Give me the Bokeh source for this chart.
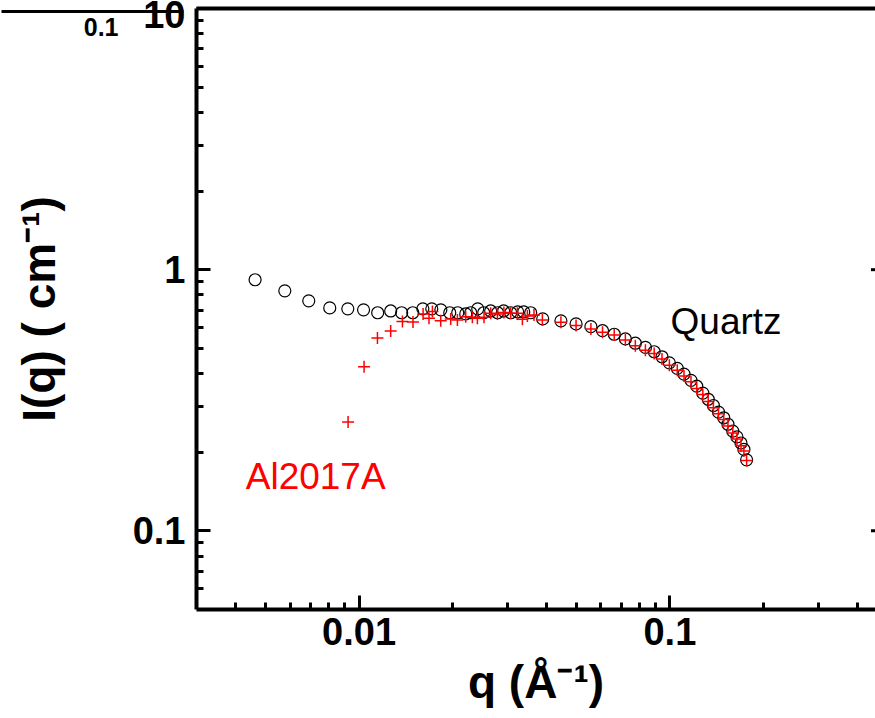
from bokeh.plotting import figure
from bokeh.models import LogAxis, FixedTicker, Label
from bokeh.embed import file_html
from bokeh.resources import INLINE

# ---------------- data ----------------
quartz_q = [0.00463, 0.00577, 0.00689, 0.00805, 0.00920, 0.01034, 0.01148, 0.01264,
            0.01371, 0.01489, 0.01604, 0.01714, 0.01833, 0.01958, 0.02077, 0.02204,
            0.02287, 0.02409, 0.02518, 0.02651, 0.02791, 0.02918, 0.03075, 0.03238,
            0.03387, 0.03566, 0.03898,
            0.0446, 0.0499, 0.0557, 0.0607, 0.0662, 0.0719, 0.0774, 0.0834, 0.0890,
            0.0943, 0.0996, 0.1056, 0.1110, 0.1169, 0.1220, 0.1276, 0.1328, 0.1380,
            0.1433, 0.1490, 0.1537, 0.1593, 0.1643, 0.1693, 0.1730, 0.1765]
quartz_I = [0.915, 0.830, 0.760, 0.714, 0.708, 0.702, 0.684, 0.695,
            0.684, 0.684, 0.708, 0.708, 0.702, 0.684, 0.684, 0.677,
            0.684, 0.708, 0.684, 0.695, 0.684, 0.695, 0.684, 0.689,
            0.689, 0.684, 0.648,
            0.637, 0.620, 0.605, 0.584, 0.566, 0.543, 0.523, 0.504, 0.485,
            0.464, 0.440, 0.419, 0.398, 0.377, 0.358, 0.337, 0.319, 0.302,
            0.285, 0.271, 0.256, 0.241, 0.229, 0.217, 0.205, 0.187]

al_q = [0.00922, 0.01038, 0.01146, 0.01264, 0.01379, 0.01491, 0.01607, 0.01679,
        0.01722, 0.01831, 0.01972, 0.02072, 0.02203, 0.02315, 0.02403, 0.02523,
        0.02651, 0.02786, 0.02924, 0.03074, 0.03231, 0.03353, 0.03479, 0.03654,
        0.03888,
        0.0446, 0.0499, 0.0557, 0.0607, 0.0662, 0.0719, 0.0774, 0.0834, 0.0890,
        0.0943, 0.0996, 0.1056, 0.1110, 0.1169, 0.1220, 0.1276, 0.1328, 0.1380,
        0.1433, 0.1490, 0.1537, 0.1593, 0.1643, 0.1693, 0.1730, 0.1765]
al_I = [0.261, 0.425, 0.548, 0.583, 0.633, 0.631, 0.677, 0.652,
        0.691, 0.637, 0.648, 0.642, 0.661, 0.658, 0.652, 0.658,
        0.681, 0.677, 0.685, 0.681, 0.681, 0.646, 0.665, 0.671,
        0.642,
        0.629, 0.612, 0.593, 0.576, 0.562, 0.538, 0.511, 0.492, 0.478,
        0.455, 0.431, 0.412, 0.392, 0.372, 0.351, 0.333, 0.313, 0.296,
        0.281, 0.267, 0.252, 0.237, 0.225, 0.212, 0.202, 0.186]

x_major_ticks = [0.01, 0.1]
x_tick_labels = ["0.01", "0.1"]
x_minor_ticks = [0.004, 0.005, 0.006, 0.007, 0.008, 0.009,
                 0.02, 0.03, 0.04, 0.05, 0.06, 0.07, 0.08, 0.09,
                 0.2, 0.3, 0.4]
y_major_ticks = [0.1, 1, 10]
y_tick_labels = ["0.1", "1", "10"]
y_minor_ticks = [0.06, 0.07, 0.08, 0.09,
                 0.2, 0.3, 0.4, 0.5, 0.6, 0.7, 0.8, 0.9,
                 2, 3, 4, 5, 6, 7, 8, 9]

x_title = "q (Å⁻¹)"
y_title = "I(q) ( cm⁻¹)"
quartz_name = "Quartz"
quartz_label_pos = (0.1005, 0.636)
al_name = "Al2017A"
al_label_pos = (0.00432, 0.1608)

# cropped bottom axis of a neighbouring panel, visible in the top-left corner
fragment_label = "0.1"
fragment_label_y = 8.5     # height (on this chart's I scale) of its "0.1" label
fragment_line_y = 9.78     # height of its axis line

X_START, X_END = 0.003, 0.4585
Y_START, Y_END = 0.05, 10
W, H = 875, 718
FONT = "Arial"

# ---------------- figure ----------------
p = figure(width=W, height=H, x_axis_type="log", y_axis_type="log",
           x_range=(X_START, X_END), y_range=(Y_START, Y_END),
           output_backend="svg", toolbar_location=None,
           min_border_left=196, min_border_right=0, min_border_top=8,
           min_border_bottom=109)
p.outline_line_color = None
p.xgrid.visible = False
p.ygrid.visible = False
p.background_fill_color = "white"
p.border_fill_color = "white"


def style_axis(ax, major, minor, labels):
    ax.ticker = FixedTicker(ticks=major, minor_ticks=minor)
    ax.major_label_overrides = {t: s for t, s in zip(major, labels)}
    ax.axis_line_width = 4
    ax.axis_line_color = "black"
    ax.major_tick_line_width = 3
    ax.minor_tick_line_width = 3
    ax.major_tick_in = 14
    ax.major_tick_out = 0
    ax.minor_tick_in = 7
    ax.minor_tick_out = 0
    ax.major_label_text_font = FONT
    ax.major_label_text_font_style = "bold"
    ax.major_label_text_font_size = "38px"
    ax.major_label_text_color = "black"
    ax.axis_label_text_font = FONT
    ax.axis_label_text_font_style = "bold"
    ax.axis_label_text_font_size = "46px"
    ax.axis_label_text_color = "black"


xa = p.xaxis[0]
style_axis(xa, x_major_ticks, x_minor_ticks, x_tick_labels)
xa.major_label_standoff = 8
xa.axis_label = x_title
xa.axis_label_standoff = 8

ya = p.yaxis[0]
style_axis(ya, y_major_ticks, y_minor_ticks, y_tick_labels)
ya.major_label_standoff = 11
ya.axis_label = None

# second left guide: the y title and the "0.1" label of the cropped neighbour panel
frag = LogAxis(ticker=FixedTicker(ticks=[fragment_label_y], minor_ticks=[]))
frag.major_label_overrides = {fragment_label_y: fragment_label}
frag.major_label_text_font = FONT
frag.major_label_text_font_style = "bold"
frag.major_label_text_font_size = "25px"
frag.major_label_text_color = "black"
frag.major_label_standoff = 11
frag.major_tick_in = 0
frag.major_tick_out = 0
frag.major_tick_line_color = None
frag.minor_tick_in = 0
frag.minor_tick_out = 0
frag.axis_line_color = None
frag.axis_label = y_title
frag.axis_label_text_font = FONT
frag.axis_label_text_font_style = "bold"
frag.axis_label_text_font_size = "46px"
frag.axis_label_text_color = "black"
frag.axis_label_standoff = 16
p.add_layout(frag, "left")

# outermost left guide: one long tick = the cropped neighbour panel's axis line
frag_line = LogAxis(ticker=FixedTicker(ticks=[fragment_line_y], minor_ticks=[]))
frag_line.major_label_overrides = {fragment_line_y: ""}
frag_line.major_label_text_font_size = "1px"
frag_line.major_label_standoff = 0
frag_line.major_tick_in = 174
frag_line.major_tick_out = 8
frag_line.major_tick_line_width = 3
frag_line.major_tick_line_color = "black"
frag_line.minor_tick_in = 0
frag_line.minor_tick_out = 0
frag_line.axis_line_color = None
p.add_layout(frag_line, "left")

# top spine (no visible ticks)
top = LogAxis(ticker=FixedTicker(ticks=x_major_ticks, minor_ticks=[]))
top.major_label_overrides = {t: "" for t in x_major_ticks}
top.major_label_text_font_size = "1px"
top.major_label_standoff = 0
top.major_tick_out = 0
top.minor_tick_out = 0
top.axis_line_width = 4
top.major_tick_line_color = None
top.minor_tick_line_color = None
p.add_layout(top, "above")

# ---------------- data marks ----------------
p.scatter(quartz_q, quartz_I, marker="circle", size=12, fill_color=None,
          line_color="black", line_width=1.2)
p.scatter(al_q, al_I, marker="cross", size=12, line_color="#ff0000",
          line_width=1.5)

# right-hand spine lies just beyond the picture: only the inner halves of its
# major ticks show, clipped by the frame edge
p.scatter([X_END] * len(y_major_ticks), y_major_ticks, marker="dash", size=9,
          line_color="black", line_width=3)

# ---------------- series labels ----------------
p.add_layout(Label(x=quartz_label_pos[0], y=quartz_label_pos[1], text=quartz_name,
                   text_font=FONT, text_font_size="37px", text_color="black",
                   text_align="left", text_baseline="middle"))
p.add_layout(Label(x=al_label_pos[0], y=al_label_pos[1], text=al_name,
                   text_font=FONT, text_font_size="37px", text_color="#ff0000",
                   text_align="left", text_baseline="middle"))

open("out.html", "w").write(file_html(p, INLINE))
